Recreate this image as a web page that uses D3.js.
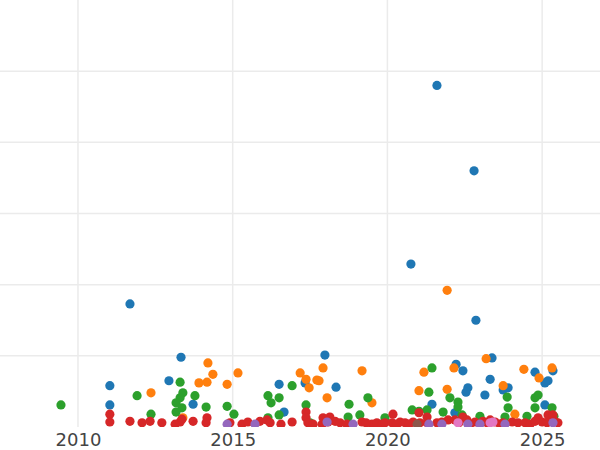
<!DOCTYPE html>
<html><head><meta charset="utf-8">
<script src="https://cdn.jsdelivr.net/npm/d3@7"></script>
<style>html,body{margin:0;padding:0;background:#fff;}</style>
</head><body>
<svg id="chart" width="600" height="450"></svg>
<script>
// Data: [year, value] pairs per series
const blue = [[2021.60,4.80],[2022.80,3.60],[2020.76,2.29],[2022.86,1.50],[2011.68,1.73],[2013.33,0.98],[2017.98,1.01],[2011.03,0.58],[2011.03,0.31],[2012.94,0.65],[2013.72,0.32],[2016.50,0.60],[2017.34,0.62],[2018.34,0.56],[2016.66,0.21],[2021.44,0.32],[2022.22,0.88],[2022.44,0.79],[2023.38,0.97],[2023.32,0.67],[2022.60,0.55],[2022.54,0.49],[2023.15,0.45],[2023.74,0.52],[2022.18,0.20],[2024.77,0.77],[2025.19,0.65],[2025.09,0.62],[2025.35,0.79],[2025.09,0.31],[2023.90,0.55]];
const orange = [[2021.93,1.92],[2012.36,0.48],[2014.20,0.90],[2014.36,0.74],[2015.17,0.76],[2013.91,0.62],[2014.17,0.63],[2014.82,0.60],[2013.39,0.13],[2017.18,0.76],[2017.37,0.67],[2017.92,0.83],[2017.72,0.66],[2017.79,0.65],[2017.47,0.55],[2018.05,0.41],[2019.18,0.79],[2019.50,0.34],[2021.18,0.77],[2021.02,0.51],[2023.19,0.96],[2022.15,0.83],[2021.93,0.53],[2023.74,0.58],[2024.41,0.81],[2024.90,0.69],[2025.32,0.83],[2024.12,0.18]];
const green = [[2009.45,0.31],[2011.91,0.44],[2012.36,0.18],[2013.30,0.63],[2013.39,0.48],[2013.30,0.41],[2013.17,0.34],[2013.36,0.27],[2013.17,0.21],[2013.78,0.44],[2014.14,0.28],[2014.82,0.29],[2015.04,0.18],[2016.14,0.44],[2016.24,0.34],[2016.50,0.41],[2016.92,0.58],[2016.50,0.17],[2017.37,0.31],[2018.76,0.32],[2016.14,0.13],[2018.73,0.14],[2017.50,0.06],[2019.37,0.41],[2019.11,0.17],[2019.92,0.13],[2021.44,0.83],[2021.34,0.49],[2020.80,0.24],[2021.02,0.22],[2021.28,0.24],[2022.02,0.41],[2022.28,0.35],[2022.28,0.28],[2021.80,0.21],[2022.41,0.17],[2022.99,0.15],[2023.87,0.42],[2023.90,0.27],[2023.80,0.14],[2024.77,0.41],[2024.87,0.45],[2024.77,0.27],[2025.32,0.27],[2024.51,0.15],[2025.38,0.15]];
const red = [[2011.03,0.18],[2011.03,0.07],[2011.68,0.08],[2012.07,0.06],[2012.33,0.08],[2012.71,0.06],[2013.14,0.04],[2013.30,0.07],[2013.36,0.11],[2013.72,0.08],[2014.17,0.13],[2014.14,0.06],[2014.91,0.06],[2015.30,0.04],[2015.49,0.07],[2015.88,0.08],[2016.11,0.10],[2016.21,0.06],[2016.92,0.07],[2017.37,0.21],[2017.37,0.13],[2017.43,0.06],[2017.89,0.04],[2017.92,0.13],[2018.14,0.14],[2018.31,0.08],[2018.47,0.06],[2018.69,0.04],[2019.18,0.07],[2019.50,0.04],[2019.66,0.06],[2019.83,0.04],[2019.92,0.06],[2020.18,0.18],[2020.41,0.07],[2020.57,0.06],[2020.83,0.07],[2021.02,0.20],[2021.28,0.14],[2021.28,0.06],[2021.60,0.06],[2021.96,0.10],[2022.18,0.10],[2022.44,0.14],[2022.57,0.10],[2022.83,0.07],[2023.09,0.08],[2023.32,0.10],[2023.48,0.07],[2023.74,0.06],[2024.03,0.07],[2024.22,0.06],[2024.45,0.06],[2024.87,0.13],[2025.00,0.07],[2025.19,0.17],[2025.35,0.17],[2025.51,0.06],[2025.16,0.06],[2020.15,0.06],[2020.31,0.04],[2020.70,0.04],[2021.05,0.06],[2021.76,0.07],[2022.31,0.06],[2022.67,0.04],[2023.22,0.06],[2023.64,0.04],[2024.61,0.04],[2024.77,0.08],[2025.41,0.08],[2019.31,0.06],[2016.56,0.04],[2017.60,0.04],[2018.08,0.07]];
const purple = [[2014.82,0.04],[2015.72,0.04],[2018.05,0.07],[2018.89,0.04],[2021.34,0.04],[2021.76,0.04],[2022.60,0.04],[2022.99,0.04],[2023.80,0.04],[2025.35,0.06]];
const brown = [[2020.96,0.04]];
const pink = [[2022.28,0.06],[2023.32,0.06],[2023.41,0.07]];

const seriesList = [
  {name:"blue", color:"#1f77b4", data:blue},
  {name:"orange", color:"#ff7f0e", data:orange},
  {name:"green", color:"#2ca02c", data:green},
  {name:"red", color:"#d62728", data:red},
  {name:"purple", color:"#9467bd", data:purple},
  {name:"brown", color:"#8c564b", data:brown},
  {name:"pink", color:"#e377c2", data:pink}
];
const xTicks = [2010, 2015, 2020, 2025];
const yTicks = [1, 2, 3, 4, 5];

const W = 600, H = 450, plotBottom = 427;
const x = d3.scaleLinear().domain([2007.48, 2026.87]).range([0, W]);
const y = d3.scaleLinear().domain([0, 6]).range([plotBottom, 0]);

const svg = d3.select("#chart");
svg.append("defs").append("clipPath").attr("id","clip")
  .append("rect").attr("x",0).attr("y",0).attr("width",W).attr("height",plotBottom);

const grid = svg.append("g");
grid.selectAll("line.v").data(xTicks).join("line")
  .attr("x1", d=>x(d)).attr("x2", d=>x(d)).attr("y1",0).attr("y2",plotBottom)
  .attr("stroke","#ebebeb").attr("stroke-width",1.5);
grid.selectAll("line.h").data(yTicks).join("line")
  .attr("x1",0).attr("x2",W).attr("y1", d=>y(d)).attr("y2", d=>y(d))
  .attr("stroke","#ebebeb").attr("stroke-width",1.5);

const pts = svg.append("g").attr("clip-path","url(#clip)");
seriesList.forEach(s => {
  pts.append("g").selectAll("circle").data(s.data).join("circle")
    .attr("cx", d=>x(d[0])).attr("cy", d=>y(d[1])).attr("r", 4.6)
    .attr("fill", s.color);
});

const xAxis = d3.axisBottom(x).tickValues(xTicks).tickFormat(d3.format("d")).tickSize(0).tickPadding(6);
const ax = svg.append("g").attr("transform", `translate(0,${plotBottom})`).call(xAxis);
ax.select(".domain").remove();
ax.selectAll("text").attr("font-family","DejaVu Sans").attr("font-size",18).attr("fill","#444");
</script>
</body></html>
